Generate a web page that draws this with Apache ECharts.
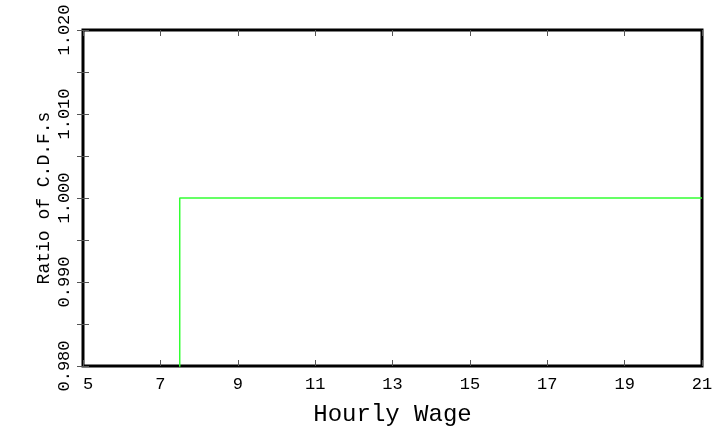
<!DOCTYPE html>
<html>
<head>
<meta charset="utf-8">
<script src="https://cdn.jsdelivr.net/npm/echarts@6/dist/echarts.min.js"></script>
<style>html,body{margin:0;padding:0;background:#fff;}#c{width:722px;height:432px;}</style>
</head>
<body>
<div id="c"></div>
<script>
// Data
var wageX = [7.5, 7.5, 21];          // hourly wage
var cdfRatio = [0.97, 1.000, 1.000]; // ratio of C.D.F.s
var xMin = 5, xMax = 21, xStep = 2;
var yMin = 0.980, yMax = 1.020, yStep = 0.005;
var xTitle = 'Hourly Wage';
var yTitle = 'Ratio of C.D.F.s';

var FONT = 'Liberation Mono';
var seriesData = wageX.map(function (x, i) { return [x - xMin, cdfRatio[i]]; });

function yLab(v) {
  var k = Math.round(v * 1000);
  return (k % 10 === 0) ? (k / 1000).toFixed(3) : '';
}
var tickStyle = { show: true, inside: true, length: 6, lineStyle: { color: '#555', width: 1 } };
var chart = echarts.init(document.getElementById('c'), null, { renderer: 'canvas' });
chart.setOption({
  animation: false,
  backgroundColor: '#fff',
  grid: { left: 83, right: 20, top: 30, bottom: 66, show: true, borderColor: '#000', borderWidth: 3, backgroundColor: 'transparent' },
  xAxis: [{
    type: 'value', position: 'bottom', min: 0, max: xMax - xMin, interval: xStep,
    splitLine: { show: false }, axisLine: { show: false }, axisTick: tickStyle,
    axisLabel: { color: '#000', fontFamily: FONT, fontSize: 17, margin: 10, alignMinLabel: 'left',
      formatter: function (v) { return String(v + xMin); } },
    name: xTitle, nameLocation: 'middle', nameGap: 37, nameMoveOverlap: false,
    nameTextStyle: { color: '#000', fontFamily: FONT, fontSize: 24 }
  }, {
    type: 'value', position: 'top', min: 0, max: xMax - xMin, interval: xStep,
    splitLine: { show: false }, axisLine: { show: false }, axisTick: tickStyle,
    axisLabel: { show: false }
  }],
  yAxis: [{
    type: 'value', position: 'left', min: yMin, max: yMax, interval: yStep,
    splitLine: { show: false }, axisLine: { show: false }, axisTick: tickStyle,
    axisLabel: { color: '#000', fontFamily: FONT, fontSize: 17, margin: 10, rotate: 90, formatter: yLab },
    name: yTitle, nameLocation: 'middle', nameGap: 30, nameRotate: 90, nameMoveOverlap: false,
    nameTextStyle: { color: '#000', fontFamily: FONT, fontSize: 18 }
  }, {
    type: 'value', position: 'right', min: yMin, max: yMax, interval: yStep,
    splitLine: { show: false }, axisLine: { show: false }, axisTick: tickStyle,
    axisLabel: { show: false }
  }],
  series: [{
    type: 'line', data: seriesData, xAxisIndex: 0, yAxisIndex: 0,
    showSymbol: false, symbol: 'none', clip: true,
    lineStyle: { color: '#33ff33', width: 1.5 }
  }]
});
</script>
</body>
</html>
